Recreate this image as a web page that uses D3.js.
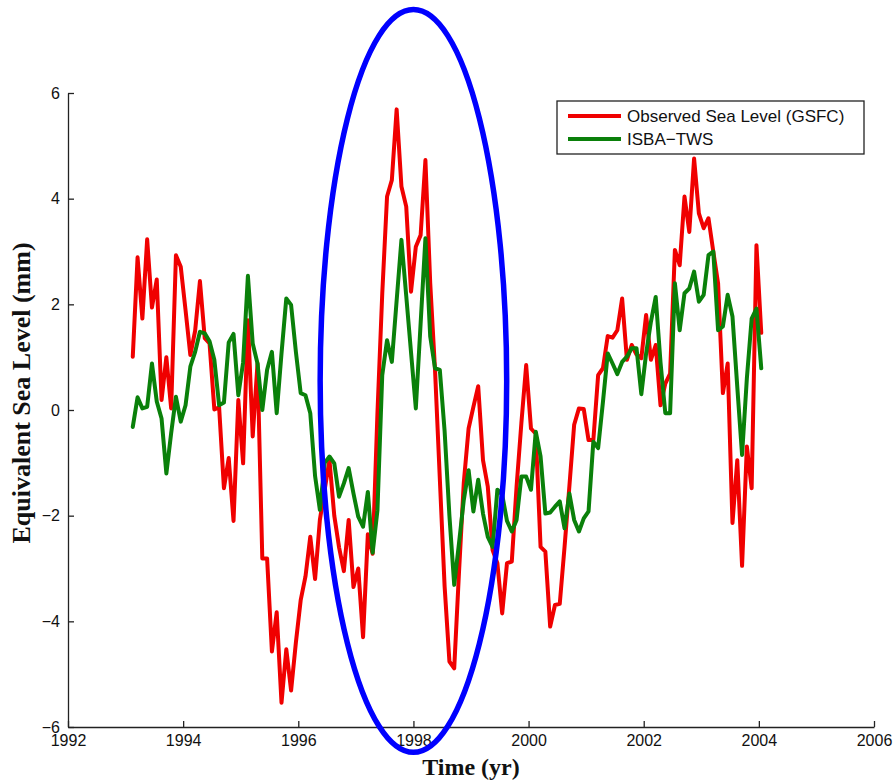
<!DOCTYPE html>
<html>
<head>
<meta charset="utf-8">
<script src="https://cdn.jsdelivr.net/npm/d3@7"></script>
<style>
  html, body { margin: 0; padding: 0; background: #ffffff; }
  svg { display: block; }
</style>
</head>
<body>
<svg id="chart" width="895" height="780"></svg>
<script>
// Monthly series, first sample mid-February 1993
const firstMonth = 1993 + 1.5 / 12;

// Observed sea level (GSFC), mm
const observedSeaLevel = [
  1.01, 2.89, 1.73, 3.23, 1.94, 2.47, 0.19, 1.00, 0.03, 2.93,
  2.71, 1.89, 1.04, 1.50, 2.44, 1.36, 1.26, 0.01, 0.05, -1.48,
  -0.91, -2.10, 0.19, -1.01, 1.70, -0.50, 0.88, -2.81, -2.81, -4.57,
  -3.83, -5.54, -4.53, -5.31, -4.40, -3.60, -3.15, -2.40, -3.20, -2.08,
  -1.51, -0.95, -2.00, -2.60, -3.05, -2.08, -3.35, -3.00, -4.30, -2.35,
  -2.72, -0.06, 2.20, 4.04, 4.35, 5.69, 4.23, 3.85, 2.24, 3.09,
  3.31, 4.73, 2.40, 0.76, -1.30, -3.34, -4.76, -4.89, -3.07, -1.37,
  -0.35, 0.06, 0.45, -0.95, -1.45, -2.65, -2.90, -3.85, -2.90, -2.87,
  -1.45, -0.25, 0.85, -0.35, -0.45, -2.59, -2.68, -4.10, -3.69, -3.67,
  -2.59, -1.45, -0.28, 0.03, 0.02, -0.57, -0.57, 0.66, 0.79, 1.40,
  1.37, 1.51, 2.11, 0.95, 1.23, 1.05, 0.98, 1.80, 0.95, 1.23,
  0.09, 0.50, 0.69, 3.03, 2.74, 4.04, 3.37, 4.76, 3.72, 3.44,
  3.63, 3.00, 2.40, 0.32, 0.88, -2.14, -0.95, -2.95, -0.69, -1.48,
  3.12, 1.46
];

// ISBA terrestrial water storage, mm of equivalent sea level
const isbaTws = [
  -0.32, 0.24, 0.03, 0.06, 0.88, 0.16, -0.16, -1.20, -0.44, 0.25,
  -0.22, 0.09, 0.82, 1.10, 1.48, 1.45, 1.30, 0.95, 0.09, 0.14,
  1.28, 1.44, 0.28, 0.90, 2.54, 1.26, 0.88, 0.00, 0.76, 1.10,
  -0.06, 1.07, 2.11, 1.99, 1.10, 0.32, 0.28, -0.06, -1.25, -1.89,
  -1.00, -0.88, -1.01, -1.64, -1.39, -1.10, -1.58, -2.02, -2.21, -1.55,
  -2.70, -1.90, 0.66, 1.32, 0.91, 2.07, 3.22, 2.16, 1.09, 0.03,
  1.64, 3.25, 1.39, 0.79, 0.76, -0.40, -2.00, -3.31, -2.52, -1.70,
  -1.14, -1.92, -1.32, -1.96, -2.40, -2.59, -1.51, -1.60, -2.10, -2.30,
  -2.08, -1.26, -1.26, -1.51, -0.41, -0.88, -1.96, -1.94, -1.83, -1.73,
  -2.24, -1.58, -2.08, -2.30, -2.05, -1.92, -0.60, -0.72, 0.15, 1.07,
  0.88, 0.68, 0.91, 1.01, 1.17, 1.17, 0.30, 1.07, 1.67, 2.14,
  0.90, -0.06, -0.06, 2.40, 1.51, 2.21, 2.30, 2.62, 2.05, 2.18,
  2.93, 3.00, 1.51, 1.58, 2.18, 1.77, 0.44, -0.85, 0.60, 1.73,
  1.92, 0.79
];

const xTicks = [1992, 1994, 1996, 1998, 2000, 2002, 2004, 2006];
const yTicks = [-6, -4, -2, 0, 2, 4, 6];

const seriesNames = ["Observed Sea Level (GSFC)", "ISBA\u2212TWS"];
const seriesColors = ["#f00000", "#0a800a"];

// Highlighted window around the 1997-98 event (data units)
const highlight = { year: 1998.0, value: 0.55, halfYears: 1.62, halfValue: 7.03 };

const svg = d3.select("#chart");

const x = d3.scaleLinear().domain([1992, 2006]).range([68, 874]);
const y = d3.scaleLinear().domain([-6, 6]).range([727, 93]);

const tickFont = "'Liberation Sans', Arial, Helvetica, sans-serif";
const titleFont = "'Liberation Serif', 'Times New Roman', serif";

// Axes: MATLAB-like, ticks pointing inward, no box
const xAxis = svg.append("g")
  .attr("transform", `translate(0,${y(-6)})`)
  .call(d3.axisBottom(x).tickValues(xTicks).tickFormat(d3.format("d"))
    .tickSizeInner(-6).tickSizeOuter(0).tickPadding(8));

const yAxis = svg.append("g")
  .attr("transform", `translate(${x(1992)},0)`)
  .call(d3.axisLeft(y).tickValues(yTicks).tickFormat(d3.format("d"))
    .tickSizeInner(-6).tickSizeOuter(0).tickPadding(8));

[xAxis, yAxis].forEach(g => {
  g.select(".domain").attr("stroke", "#222").attr("stroke-width", 1.3);
  g.selectAll(".tick line").attr("stroke", "#222").attr("stroke-width", 1.3);
  g.selectAll(".tick text")
    .attr("fill", "#111")
    .style("font-family", tickFont)
    .style("font-size", "16px");
});

// Series lines
const months = observedSeaLevel.map((_, i) => firstMonth + i / 12);
const line = d3.line()
  .x((d, i) => x(months[i]))
  .y(d => y(d));

[observedSeaLevel, isbaTws].forEach((values, k) => {
  svg.append("path")
    .datum(values)
    .attr("fill", "none")
    .attr("stroke", seriesColors[k])
    .attr("stroke-width", 4)
    .attr("stroke-linejoin", "round")
    .attr("stroke-linecap", "round")
    .attr("d", line);
});

// Axis titles
svg.append("text")
  .attr("x", (x(1992) + x(2006)) / 2)
  .attr("y", 775)
  .attr("text-anchor", "middle")
  .style("font-family", titleFont)
  .style("font-weight", "bold")
  .style("font-size", "24px")
  .attr("fill", "#111")
  .text("Time (yr)");

svg.append("text")
  .attr("transform", `translate(30,393) rotate(-90)`)
  .attr("text-anchor", "middle")
  .style("font-family", titleFont)
  .style("font-weight", "bold")
  .style("font-size", "26px")
  .attr("fill", "#111")
  .text("Equivalent Sea Level (mm)");

// Legend
const legend = svg.append("g").attr("transform", "translate(557,101)");
legend.append("rect")
  .attr("width", 307).attr("height", 53)
  .attr("fill", "#fff").attr("stroke", "#222").attr("stroke-width", 1.3);
seriesNames.forEach((name, k) => {
  const ly = 15 + k * 23;
  legend.append("line")
    .attr("x1", 11).attr("x2", 64).attr("y1", ly).attr("y2", ly)
    .attr("stroke", seriesColors[k]).attr("stroke-width", 4);
  legend.append("text")
    .attr("x", 70).attr("y", ly + 6)
    .style("font-family", tickFont)
    .style("font-size", "17px")
    .attr("fill", "#111")
    .text(name);
});

// Highlight ellipse
svg.append("ellipse")
  .attr("cx", x(highlight.year))
  .attr("cy", y(highlight.value))
  .attr("rx", x(highlight.year + highlight.halfYears) - x(highlight.year))
  .attr("ry", y(highlight.value - highlight.halfValue) - y(highlight.value))
  .attr("fill", "none")
  .attr("stroke", "#0000ff")
  .attr("stroke-width", 5.5);
</script>
</body>
</html>
